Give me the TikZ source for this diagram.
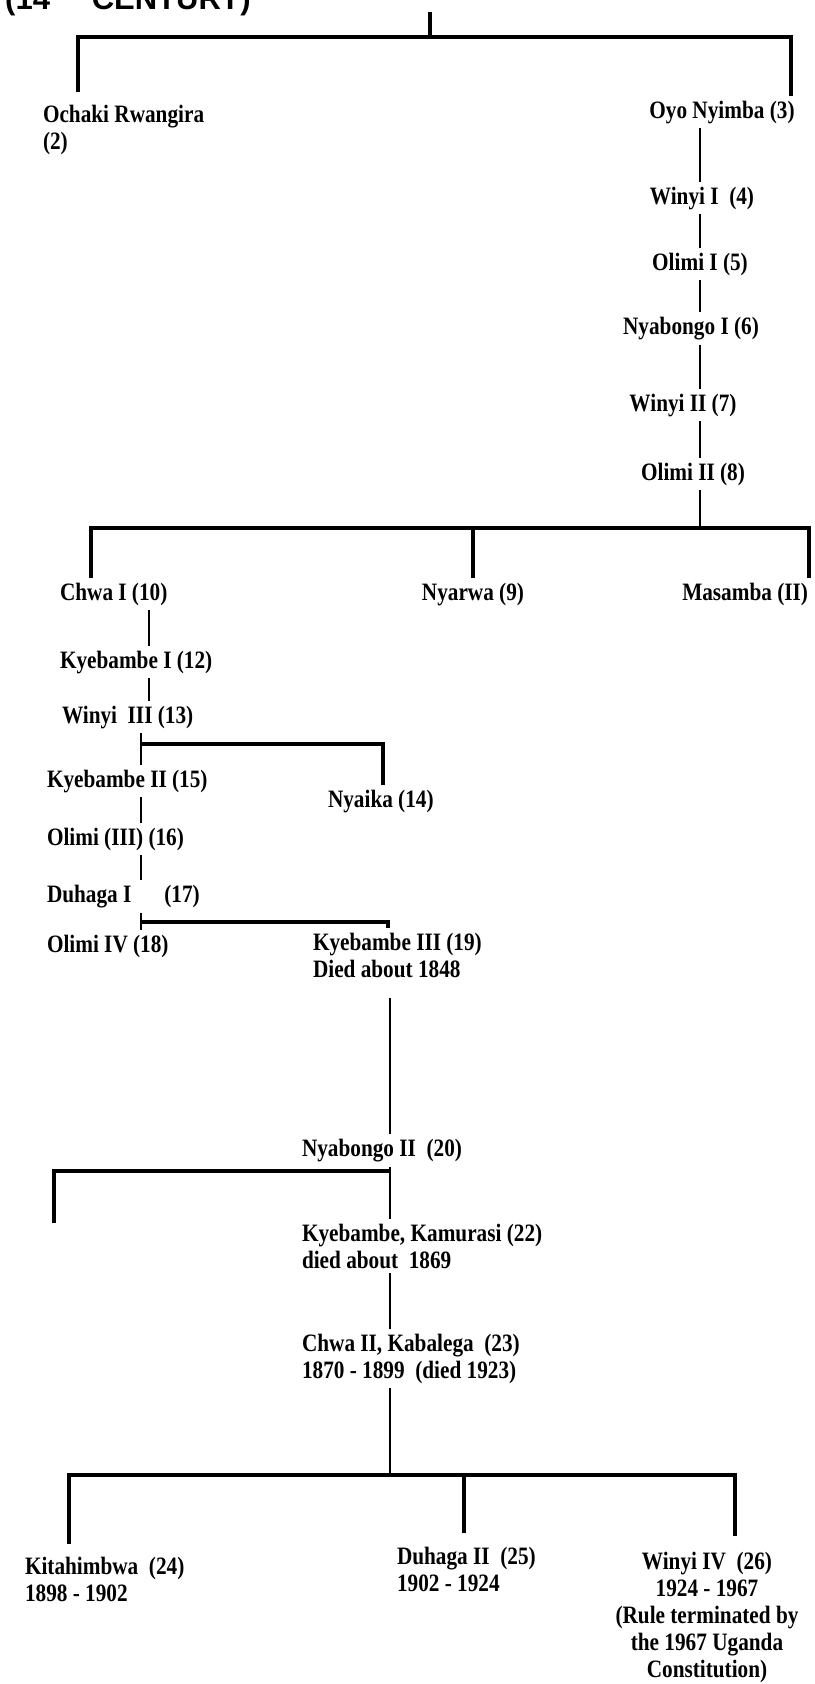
\documentclass[tikz,border=0pt]{standalone}
\usepackage{fontspec}
\setmainfont{Liberation Serif}[FakeStretch=0.85]
\newfontfamily\headfont{Liberation Sans}
\usetikzlibrary{calc}

\tikzset{
  king/.style={font=\bfseries\fontsize{25bp}{27bp}\selectfont, inner sep=0pt, outer sep=5bp, align=left},
  line/.style={line width=2.5bp},
  bar/.style={line width=3.2bp},
}

\begin{document}
\begin{tikzpicture}[x=1bp,y=-1bp]
\useasboundingbox (0,0) rectangle (815,1684);

% heading, cut off at the top edge
\node[anchor=base west, inner sep=0pt, font=\headfont\bfseries\fontsize{31bp}{31bp}\selectfont] (title) at (5,10) {(14\raisebox{0.55em}{\fontsize{18bp}{18bp}\selectfont th}\hspace{0.8em}CENTURY)};

% right line (multi-line nodes sit on their last line)
\node[king, anchor=base west] (ochaki) at (38,149) {Ochaki Rwangira\\(2)};
\node[king, anchor=base] (oyo) at (722,118) {Oyo Nyimba (3)};
\node[king, anchor=base] (winyi1) at (702,204) {Winyi I~~(4)};
\node[king, anchor=base] (olimi1) at (700,270) {Olimi I (5)};
\node[king, anchor=base] (nyabongo1) at (691,334) {Nyabongo I (6)};
\node[king, anchor=base] (winyi2) at (683,411) {Winyi II (7)};
\node[king, anchor=base] (olimi2) at (693,480) {Olimi II (8)};

% sons of Olimi II
\node[king, anchor=base west] (chwa1) at (55,600) {Chwa I (10)};
\node[king, anchor=base] (nyarwa) at (473,600) {Nyarwa (9)};
\node[king, anchor=base east] (masamba) at (813,600) {Masamba (II)};

% left line
\node[king, anchor=base west] (kyebambe1) at (55,668) {Kyebambe I (12)};
\node[king, anchor=base west] (winyi3) at (57,723) {Winyi~~III (13)};
\node[king, anchor=base west] (kyebambe2) at (42,787) {Kyebambe II (15)};
\node[king, anchor=base west] (nyaika) at (323,807) {Nyaika (14)};
\node[king, anchor=base west] (olimi3) at (42,845) {Olimi (III) (16)};
\node[king, anchor=base west] (duhaga1) at (42,902) {Duhaga I\hspace{33bp}(17)};
\node[king, anchor=base west] (olimi4) at (42,952) {Olimi IV (18)};
\node[king, anchor=base west] (kyebambe3) at (308,977) {Kyebambe III (19)\\Died about 1848};

% middle line
\node[king, anchor=base west] (nyabongo2) at (297,1156) {Nyabongo II~~(20)};
\node[king, anchor=base west] (kamurasi) at (297,1268) {Kyebambe, Kamurasi (22)\\died about~~1869};
\node[king, anchor=base west] (kabalega) at (297,1378) {Chwa II, Kabalega~~(23)\\1870 - 1899~~(died 1923)};
\node[king, anchor=base west] (kitahimbwa) at (20,1601) {Kitahimbwa~~(24)\\1898 - 1902};
\node[king, anchor=base west] (duhaga2) at (392,1591) {Duhaga II~~(25)\\1902 - 1924};
\node[king, anchor=base, align=center] (winyi4) at (707,1677) {Winyi IV~~(26)\\1924 - 1967\\(Rule terminated by\\the 1967 Uganda\\Constitution)};

\coordinate (top) at (430,12);
\coordinate (j1) at (430,37);
\coordinate (j2) at (700,528);
\coordinate (j3) at (142,744);
\coordinate (j4) at (142,922);
\coordinate (j5) at (390,1171);
\coordinate (lost) at (54,1223);
\coordinate (j6) at (390,1475);
\coordinate (rtrunk) at (700,0);
\coordinate (ltop) at (149,0);
\coordinate (lbot) at (141,0);
\coordinate (mtrunk) at (390,0);

% first split
\draw[bar] (top) -- (j1);
\draw[bar, shorten <=8bp] (ochaki.north -| 78,0) |- (j1) -| (oyo.north -| 791,0);

\foreach \a/\b in {oyo/winyi1, winyi1/olimi1, olimi1/nyabongo1, nyabongo1/winyi2, winyi2/olimi2}
  \draw[line] (\a.south -| rtrunk) -- (\b.north -| rtrunk);
\draw[line] (olimi2.south -| rtrunk) -- (j2);
\draw[bar] (chwa1.north -| 91,0) |- (j2) -| (masamba.north -| 809,0);
\draw[bar] (nyarwa.north) -- (nyarwa.north |- j2);

\draw[line] (chwa1.south -| ltop) -- (kyebambe1.north -| ltop);
\draw[line] (kyebambe1.south -| ltop) -- (winyi3.north -| ltop);
\foreach \a/\b in {winyi3/kyebambe2, kyebambe2/olimi3, olimi3/duhaga1, duhaga1/olimi4}
  \draw[line] (\a.south -| lbot) -- (\b.north -| lbot);
\draw[bar] (j3) -| (nyaika.north -| 383,0);
\draw[bar] (j4) -| (kyebambe3.north -| 388,0);

\draw[line, shorten <=16bp] (kyebambe3.south -| mtrunk) -- (nyabongo2.north -| mtrunk);
\draw[line] (nyabongo2.south -| mtrunk) -- (kamurasi.north -| mtrunk);
\draw[bar] (j5) -| (lost);
\draw[line] (kamurasi.south -| mtrunk) -- (kabalega.north -| mtrunk);
\draw[line] (kabalega.south -| mtrunk) -- (j6);
\draw[bar, shorten <=8bp, shorten >=11bp] (kitahimbwa.north -| 69,0) |- (j6) -| (winyi4.north -| 735,0);
\draw[bar, shorten <=9bp] (duhaga2.north -| 464,0) -- (j6 -| 464,0);

\end{tikzpicture}
\end{document}
